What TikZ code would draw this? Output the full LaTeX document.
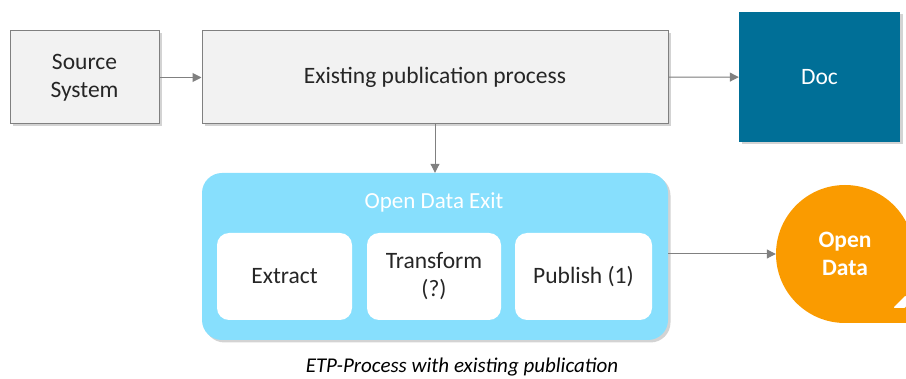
\documentclass[tikz,border=0pt]{standalone}
\usepackage{fontspec}
\setmainfont{Carlito}
\usetikzlibrary{positioning, arrows.meta, shadows}
\definecolor{box_grey}{RGB}{242, 242, 242}
\definecolor{line_grey}{RGB}{128, 128, 128}
\definecolor{doc_blue}{RGB}{0, 111, 151}
\definecolor{exit_cyan}{RGB}{135, 223, 253}
\definecolor{od_orange}{RGB}{250, 155, 0}
\definecolor{txt_grey}{RGB}{38, 38, 38}

\begin{document}
\begin{tikzpicture}[x=1pt, y=-1pt, >={Triangle[length=9pt, width=9pt]},
      font=\fontsize{23.5}{28}\selectfont,
      shade/.style={drop shadow={opacity=0.35, shadow xshift=2.5pt, shadow yshift=-2.5pt}},
      proc/.style={draw=line_grey, fill=box_grey, shade, align=center, text=txt_grey,
        inner sep=0pt, line width=1pt},
      doc/.style={fill=doc_blue, shade, text=white, inner sep=0pt},
      exitbox/.style={fill=exit_cyan, rounded corners=20pt, shade, inner sep=0pt},
      stage/.style={fill=white, rounded corners=12pt, align=center, text=txt_grey, inner sep=0pt,
        minimum width=135pt, minimum height=87pt},
      conn/.style={->, draw=line_grey, fill=line_grey, line width=1pt}]
    \useasboundingbox (0,0) rectangle (906,379);
    \node[proc, minimum width=149pt, minimum height=93pt] (src) at (84.5,77.5) {Source\\ System};
    \node[proc, minimum width=466pt, minimum height=93pt] (pub) at (435,77.5) {Existing publication process};
    \node[doc, minimum width=161pt, minimum height=130pt] (doc) at (819.5,77) {Doc};
    \node[exitbox, minimum width=466pt, minimum height=167pt] (exit) at (435,256.5) {};
    \node[text=white, anchor=center, font=\fontsize{23}{28}\selectfont] (title) at (434,202) {Open Data Exit};
    \node[stage] (ext) at (284.5,276.5) {Extract};
    \node[stage, minimum width=134pt] (trf) at (434,276.5) {Transform\\ (?)};
    \node[stage, minimum width=137pt] (pbl) at (583.5,276.5) {Publish (1)};
    % open data bubble, cut off by the page edge
    \fill[od_orange] (845,323) [rounded corners=69pt] -- (776,323) -- (776,185) -- (914,185)
      [sharp corners] -- (914,323) -- cycle;
    \fill[white, rounded corners=2pt] (893,308) -- (906,295) -- (906,308) -- cycle;
    \node[circle, minimum size=138pt, inner sep=0pt, align=center, text=white,
      font=\fontsize{23.5}{28}\selectfont\bfseries] (od) at (845,254) {Open\\ Data};
    \draw[conn] (src) -- (pub);
    \draw[conn] (pub) -- (doc);
    \draw[conn] (pub) -- (exit);
    \draw[conn] (exit.east |- od) -- (od);
    \node[font=\fontsize{21}{25}\selectfont\itshape, text=black, anchor=base] (cap) at (462,373)
      {ETP-Process with existing publication};
  \end{tikzpicture}
\end{document}
